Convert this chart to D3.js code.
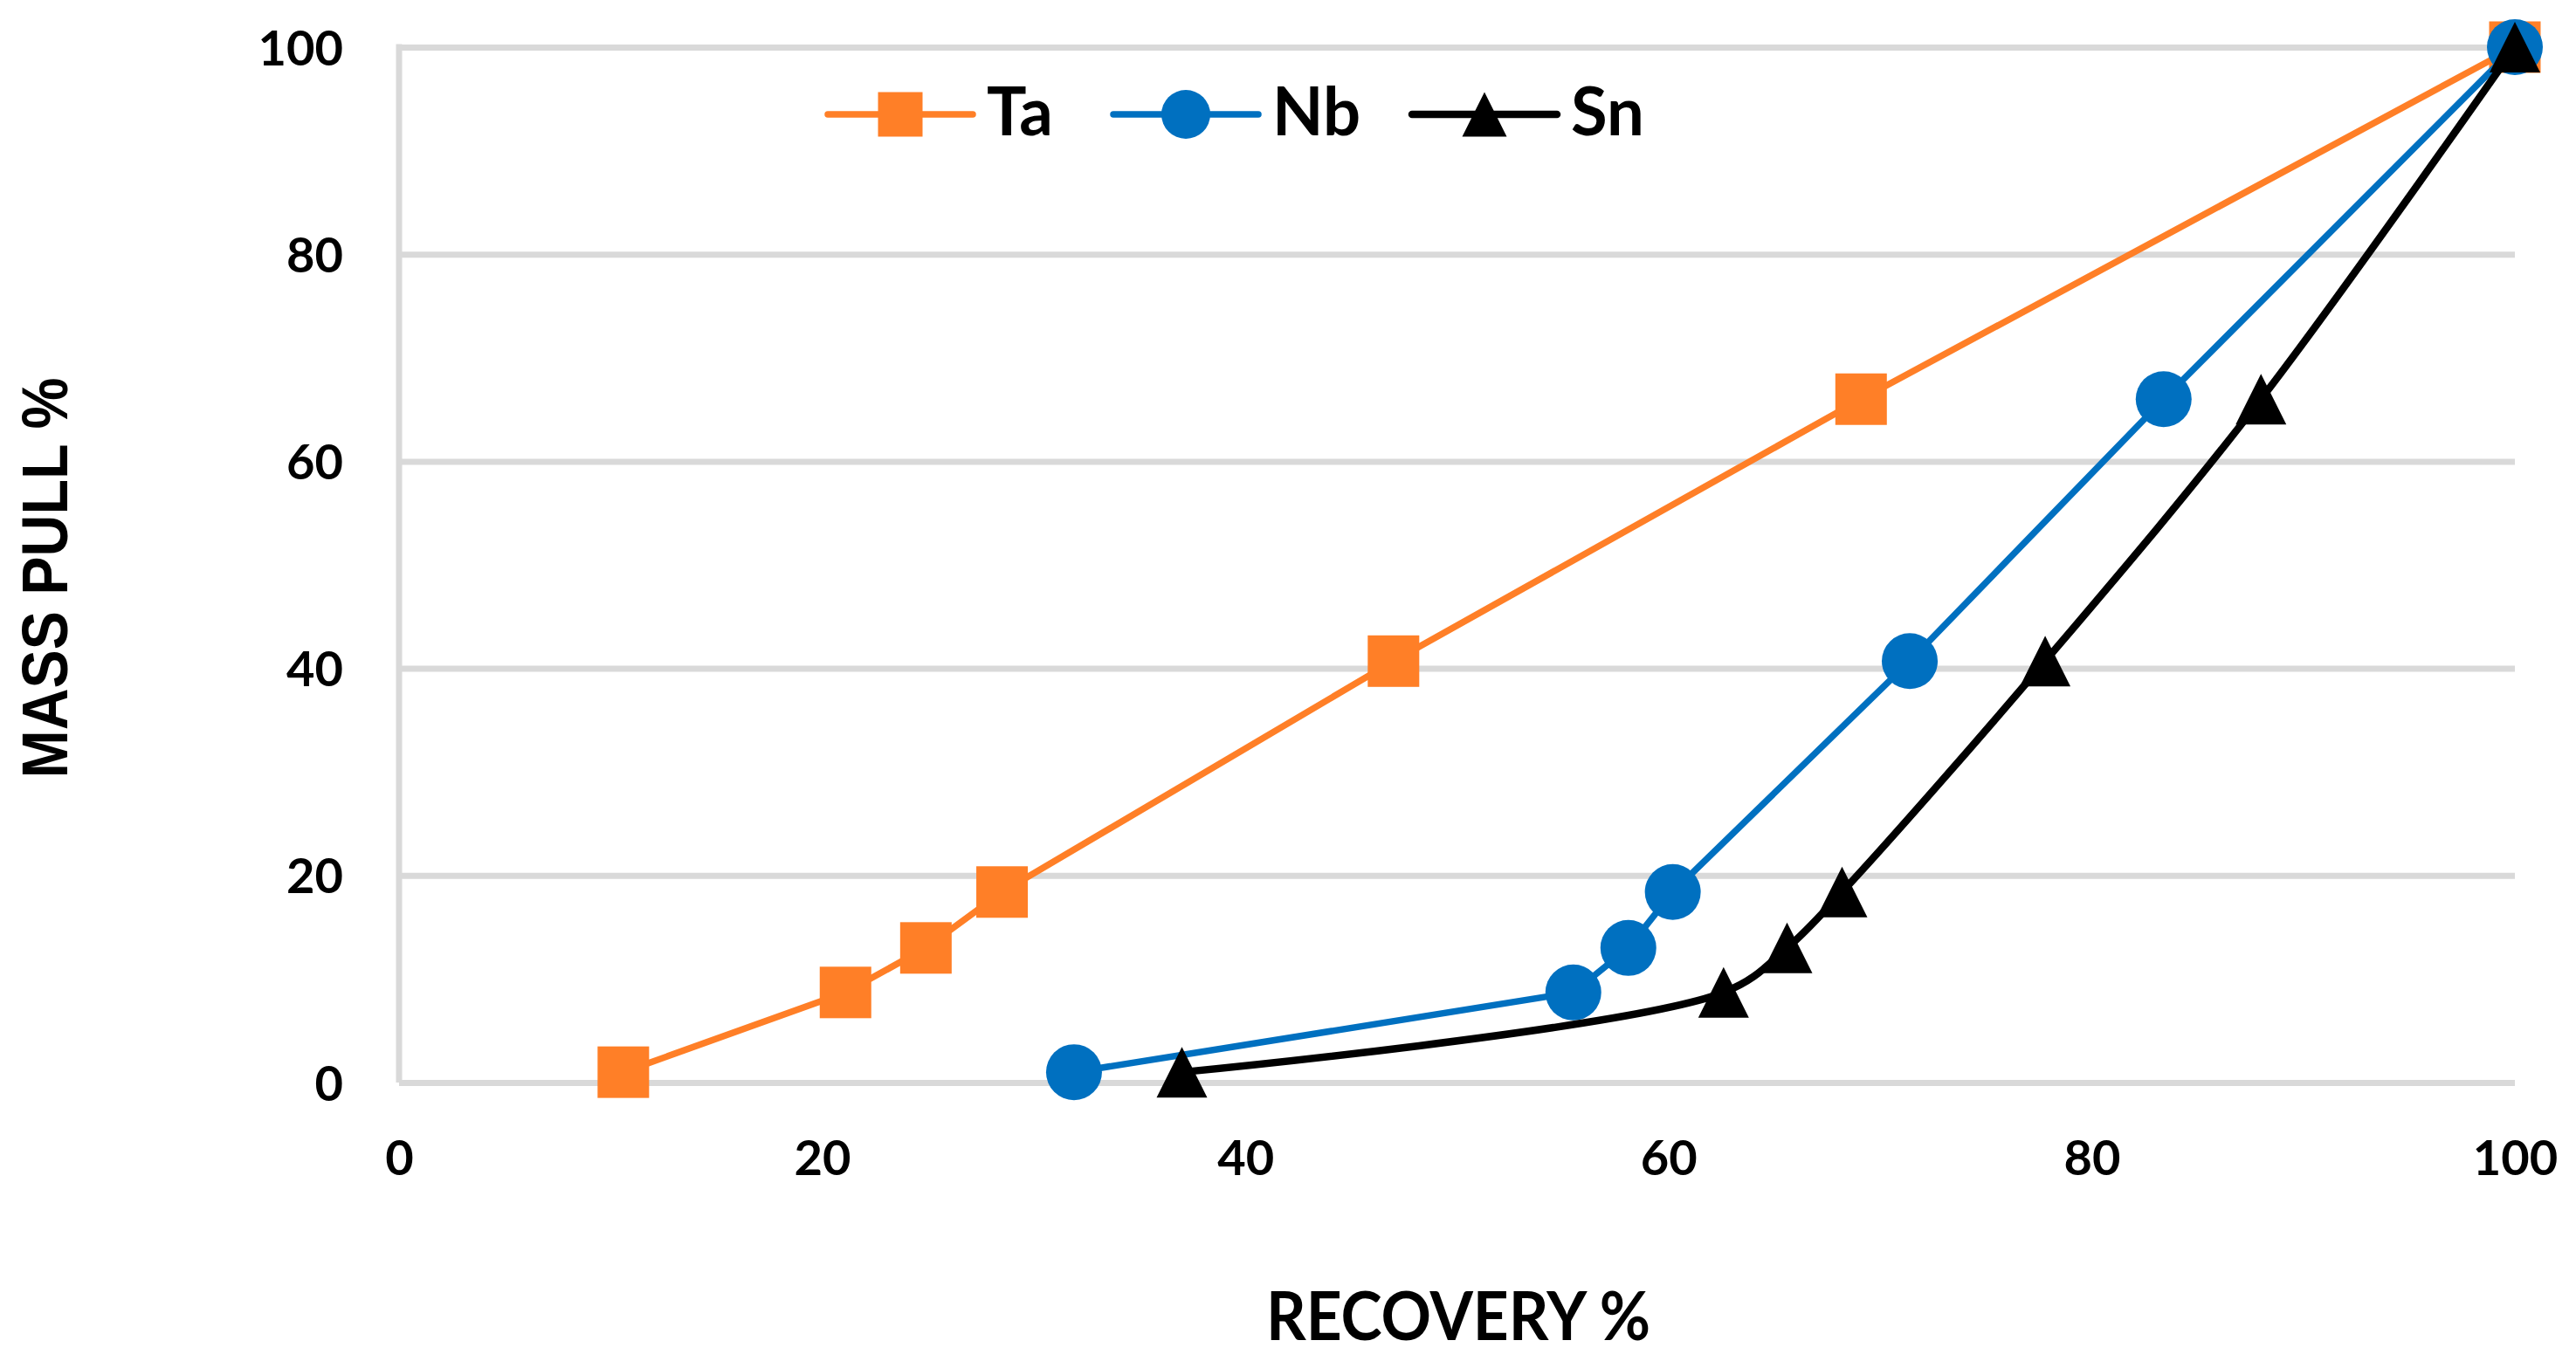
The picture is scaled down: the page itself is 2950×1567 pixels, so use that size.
<!DOCTYPE html>
<html>
<head>
<meta charset="utf-8">
<script src="https://cdn.jsdelivr.net/npm/d3@7"></script>
<style>
  html, body { margin: 0; padding: 0; background: #fff; }
  svg { display: block; }
</style>
</head>
<body>
<svg id="chart" width="2950" height="1567"></svg>
<script>
// ---- data ----
const seriesNames = ["Ta", "Nb", "Sn"];
const massPull = [1.0, 8.7, 13.0, 18.4, 40.7, 66.0, 100];
const taRecovery = [10.6, 21.1, 24.9, 28.5, 47.0, 69.1, 100];
const nbRecovery = [31.9, 55.5, 58.1, 60.2, 71.4, 83.4, 100];
const snRecovery = [37.0, 62.6, 65.6, 68.2, 77.8, 88.0, 100];
const xTicks = [0, 20, 40, 60, 80, 100];
const yTicks = [0, 20, 40, 60, 80, 100];
const xTitle = "RECOVERY %";
const yTitle = "MASS PULL %";

// ---- layout ----
const plot = { left: 457, right: 2880, top: 54, bottom: 1240 };
const colors = { Ta: "#FF7F27", Nb: "#0070C0", Sn: "#000000" };
const svg = d3.select("#chart");

const x = d3.scaleLinear().domain([0, 100]).range([plot.left, plot.right]);
const y = d3.scaleLinear().domain([0, 100]).range([plot.bottom, plot.top]);

const tickFont = "Lato, 'Open Sans', sans-serif";
const gridW = 7;

// gridlines
const yAxis = d3.axisLeft(y).tickValues(yTicks).tickSize(-(plot.right - plot.left)).tickFormat(d3.format("d")).tickPadding(64);
const gy = svg.append("g").attr("transform", `translate(${plot.left},0)`).call(yAxis);
gy.select(".domain").remove();
gy.selectAll(".tick line").attr("stroke", "#d9d9d9").attr("stroke-width", gridW);
gy.selectAll(".tick text").attr("font-family", tickFont).attr("font-weight", 700)
  .attr("font-size", 56).attr("fill", "#000").attr("dy", "0.36em");

// vertical axis line
svg.append("line").attr("x1", x(0)).attr("x2", x(0)).attr("y1", y(100) - gridW / 2).attr("y2", y(0))
  .attr("stroke", "#d9d9d9").attr("stroke-width", gridW);

// x axis labels
const xAxis = d3.axisBottom(x).tickValues(xTicks).tickSize(0).tickFormat(d3.format("d")).tickPadding(0);
const gx = svg.append("g").attr("transform", `translate(0,${plot.bottom})`).call(xAxis);
gx.select(".domain").remove();
gx.selectAll(".tick text").attr("font-family", tickFont).attr("font-weight", 700)
  .attr("font-size", 56).attr("fill", "#000").attr("y", 106).attr("dy", 0);

// axis titles
svg.append("text").text(xTitle)
  .attr("x", 1450).attr("y", 1535)
  .attr("font-family", tickFont).attr("font-weight", 700).attr("font-size", 76)
  .attr("textLength", 440).attr("lengthAdjust", "spacingAndGlyphs");

svg.append("text").text(yTitle)
  .attr("transform", "translate(50,662) rotate(-90)")
  .attr("y", 27).attr("text-anchor", "middle")
  .attr("font-family", "'Liberation Sans', Arial, sans-serif").attr("font-weight", 700).attr("font-size", 74)
  .attr("textLength", 459).attr("lengthAdjust", "spacingAndGlyphs");

// ---- series ----
const series = [
  { name: "Ta", xs: taRecovery, curve: d3.curveLinear, shape: "square", lw: 7.5 },
  { name: "Nb", xs: nbRecovery, curve: d3.curveLinear, shape: "circle", lw: 7.5 },
  { name: "Sn", xs: snRecovery, curve: d3.curveCatmullRom.alpha(0.5), shape: "triangle", lw: 8.5 }
];

function drawMarker(g, shape, cx, cy, s, color) {
  if (shape === "square") {
    g.append("rect").attr("x", cx - s / 2).attr("y", cy - s / 2).attr("width", s).attr("height", s).attr("fill", color);
  } else if (shape === "circle") {
    g.append("circle").attr("cx", cx).attr("cy", cy).attr("r", s / 2).attr("fill", color);
  } else {
    g.append("path").attr("d", `M${cx},${cy - s / 2}L${cx + s / 2},${cy + s / 2}L${cx - s / 2},${cy + s / 2}Z`).attr("fill", color);
  }
}
const markerSize = { square: 59, circle: 64, triangle: 58 };
const legendMarkerSize = { square: 51, circle: 56, triangle: 51 };

series.forEach(s => {
  const pts = s.xs.map((v, i) => [v, massPull[i]]);
  const line = d3.line().x(d => x(d[0])).y(d => y(d[1])).curve(s.curve);
  const g = svg.append("g");
  g.append("path").attr("d", line(pts)).attr("fill", "none")
    .attr("stroke", colors[s.name]).attr("stroke-width", s.lw).attr("stroke-linejoin", "round");
  pts.forEach(p => drawMarker(g, s.shape, x(p[0]), y(p[1]), markerSize[s.shape], colors[s.name]));
});

// ---- legend ----
const legendStarts = [948, 1275, 1617];
const legendY = 131;
series.forEach((s, i) => {
  const g = svg.append("g");
  const x0 = legendStarts[i];
  g.append("line").attr("x1", x0).attr("x2", x0 + 166).attr("y1", legendY).attr("y2", legendY)
    .attr("stroke", colors[s.name]).attr("stroke-width", s.lw).attr("stroke-linecap", "round");
  drawMarker(g, s.shape, x0 + 83, legendY, legendMarkerSize[s.shape], colors[s.name]);
  g.append("text").text(seriesNames[i]).attr("x", x0 + 182).attr("y", 155)
    .attr("font-family", tickFont).attr("font-weight", 700).attr("font-size", 76).attr("fill", "#000");
});
</script>
</body>
</html>
